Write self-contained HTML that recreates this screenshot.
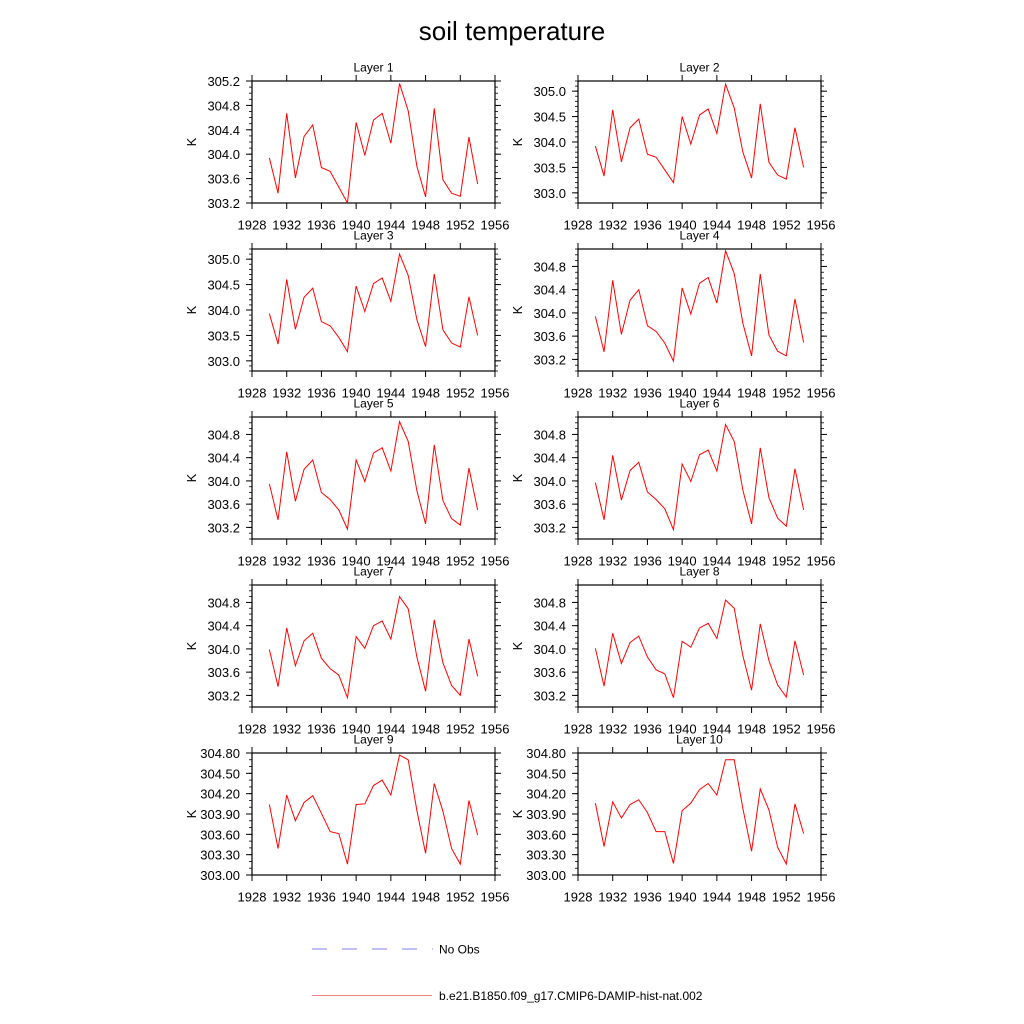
<!DOCTYPE html>
<html><head><meta charset="utf-8"><style>
html,body{margin:0;padding:0;background:#fff;}
svg{display:block;font-family:"Liberation Sans",Arial,sans-serif;}
</style></head><body>
<svg id="chart" width="1024" height="1024" viewBox="0 0 1024 1024">
<text x="512" y="40" font-size="26" text-anchor="middle">soil temperature</text>
<g>
<line x1="312" y1="949" x2="433" y2="949" stroke="#8080f0" stroke-width="1" stroke-dasharray="15,15"/>
<text x="439" y="953.5" font-size="12">No Obs</text>
<line x1="312" y1="995.5" x2="432" y2="995.5" stroke="#f08080" stroke-width="1"/>
<text x="439" y="1000" font-size="12">b.e21.B1850.f09_g17.CMIP6-DAMIP-hist-nat.002</text>
</g>
</svg>
<script>
const years = [1930,1931,1932,1933,1934,1935,1936,1937,1938,1939,1940,1941,1942,1943,1944,1945,1946,1947,1948,1949,1950,1951,1952,1953,1954];
const xTicks = [1928,1932,1936,1940,1944,1948,1952,1956];
const layer1 = [303.94,303.36,304.67,303.61,304.29,304.48,303.78,303.72,303.46,303.2,304.52,303.98,304.56,304.67,304.18,305.16,304.71,303.8,303.3,304.75,303.58,303.36,303.31,304.28,303.51];
const layer2 = [303.92,303.33,304.63,303.61,304.28,304.45,303.76,303.7,303.45,303.2,304.5,303.96,304.53,304.65,304.17,305.14,304.67,303.8,303.29,304.75,303.6,303.35,303.27,304.28,303.5];
const layer3 = [303.93,303.33,304.6,303.62,304.25,304.43,303.77,303.69,303.46,303.18,304.47,303.97,304.52,304.63,304.17,305.1,304.68,303.81,303.28,304.71,303.61,303.35,303.27,304.26,303.5];
const layer4 = [303.94,303.33,304.56,303.63,304.22,304.4,303.78,303.68,303.48,303.17,304.43,303.98,304.51,304.61,304.17,305.07,304.68,303.82,303.26,304.67,303.62,303.34,303.26,304.24,303.49];
const layer5 = [303.95,303.33,304.5,303.65,304.2,304.36,303.8,303.68,303.5,303.17,304.36,303.99,304.48,304.57,304.17,305.02,304.68,303.83,303.26,304.62,303.66,303.35,303.24,304.22,303.5];
const layer6 = [303.97,303.33,304.44,303.67,304.18,304.32,303.81,303.68,303.52,303.16,304.29,303.99,304.45,304.53,304.17,304.97,304.68,303.84,303.26,304.57,303.71,303.36,303.22,304.21,303.5];
const layer7 = [303.99,303.35,304.36,303.71,304.14,304.27,303.84,303.66,303.55,303.16,304.21,304.01,304.4,304.48,304.17,304.9,304.69,303.86,303.27,304.5,303.76,303.37,303.2,304.17,303.53];
const layer8 = [304.01,303.36,304.27,303.75,304.11,304.22,303.86,303.64,303.57,303.16,304.13,304.03,304.36,304.44,304.18,304.84,304.7,303.88,303.29,304.43,303.8,303.38,303.17,304.14,303.55];
const layer9 = [304.04,303.39,304.18,303.8,304.07,304.17,303.91,303.64,303.61,303.16,304.04,304.05,304.32,304.4,304.18,304.77,304.7,303.95,303.32,304.35,303.94,303.39,303.16,304.1,303.59];
const layer10 = [304.06,303.42,304.08,303.84,304.04,304.11,303.92,303.64,303.64,303.17,303.95,304.06,304.26,304.35,304.18,304.7,304.7,303.98,303.35,304.27,303.96,303.41,303.16,304.05,303.61];
const ticksA = ["303.2","303.6","304.0","304.4","304.8","305.2"];
const ticksB = ["303.0","303.5","304.0","304.5","305.0"];
const ticksC = ["303.2","303.6","304.0","304.4","304.8"];
const ticksD = ["303.00","303.30","303.60","303.90","304.20","304.50","304.80"];
const layerSeries = [layer1,layer2,layer3,layer4,layer5,layer6,layer7,layer8,layer9,layer10];
const layerTicks = [ticksA,ticksB,ticksB,ticksC,ticksC,ticksC,ticksC,ticksC,ticksD,ticksD];
const layerRange = [[303.2,305.2],[302.8,305.2],[302.8,305.2],[303.0,305.1],[303.0,305.1],[303.0,305.1],[303.0,305.1],[303.0,305.1],[303.0,304.8],[303.0,304.8]];

const NS = "http://www.w3.org/2000/svg";
const svg = document.getElementById('chart');
function mk(tag, attrs, parent){const e=document.createElementNS(NS,tag);for(const k in attrs)e.setAttribute(k,attrs[k]);parent.appendChild(e);return e;}

const PW = 243, PH = 122;
for (let i = 0; i < 10; i++) {
  const col = i % 2, row = Math.floor(i / 2);
  const x0 = col === 0 ? 252 : 578, y0 = 81 + row * 168;
  const [ymin, ymax] = layerRange[i];
  const xs = v => x0 + (v - 1928) / 28 * PW;
  const ys = v => y0 + PH - (v - ymin) / (ymax - ymin) * PH;
  const g = mk('g', {}, svg);
  
  
  const t = mk('text', {x: x0 + PW / 2, y: y0 - 9.5, 'font-size': 12, 'text-anchor': 'middle'}, g);
  t.textContent = 'Layer ' + (i + 1);
  
  
  const frame = mk('rect', {x: x0, y: y0, width: PW, height: PH, fill: 'none', stroke: '#000', 'stroke-width': 1.2}, g);
  
  
  xTicks.forEach(v => {
    const px = xs(v);
    const tk1 = mk('line', {x1: px, x2: px, y1: y0 + PH, y2: y0 + PH + 6, stroke: '#000'}, g);
    
    
    const tk2 = mk('line', {x1: px, x2: px, y1: y0, y2: y0 - 6, stroke: '#000'}, g);
    
    
    const lb = mk('text', {x: px, y: y0 + PH + 26.5, 'font-size': 13, 'text-anchor': 'middle'}, g);
    lb.textContent = v;
    
    
  });
  const first = Math.ceil(ymin * 10 - 1e-6), last = Math.floor(ymax * 10 + 1e-6);
  for (let m = first; m <= last; m++) {
    const py = ys(m / 10);
    const a = mk('line', {x1: x0 - 3, x2: x0, y1: py, y2: py, stroke: '#000', 'stroke-width': 0.8}, g);
    
    
    const b = mk('line', {x1: x0 + PW, x2: x0 + PW + 3, y1: py, y2: py, stroke: '#000', 'stroke-width': 0.8}, g);
    
    
  }
  layerTicks[i].forEach(s => {
    const py = ys(parseFloat(s));
    const a = mk('line', {x1: x0 - 6, x2: x0, y1: py, y2: py, stroke: '#000'}, g);
    
    
    const b = mk('line', {x1: x0 + PW, x2: x0 + PW + 6, y1: py, y2: py, stroke: '#000'}, g);
    
    
    const lb = mk('text', {x: x0 - 12, y: py + 5, 'font-size': 13, 'text-anchor': 'end'}, g);
    lb.textContent = s;
    
    
  });
  const yl = mk('text', {x: 0, y: 0, 'font-size': 13, 'text-anchor': 'middle', transform: 'translate(' + (x0 - 56) + ',' + (y0 + PH / 2) + ') rotate(-90)'}, g);
  yl.textContent = 'K';
  
  
  const pts = layerSeries[i].map((v, k) => xs(years[k]).toFixed(2) + ',' + ys(v).toFixed(2)).join(' ');
  const line = mk('polyline', {points: pts, fill: 'none', stroke: '#ff0000', 'stroke-width': 1}, g);
  
  
}
</script>
</body></html>
